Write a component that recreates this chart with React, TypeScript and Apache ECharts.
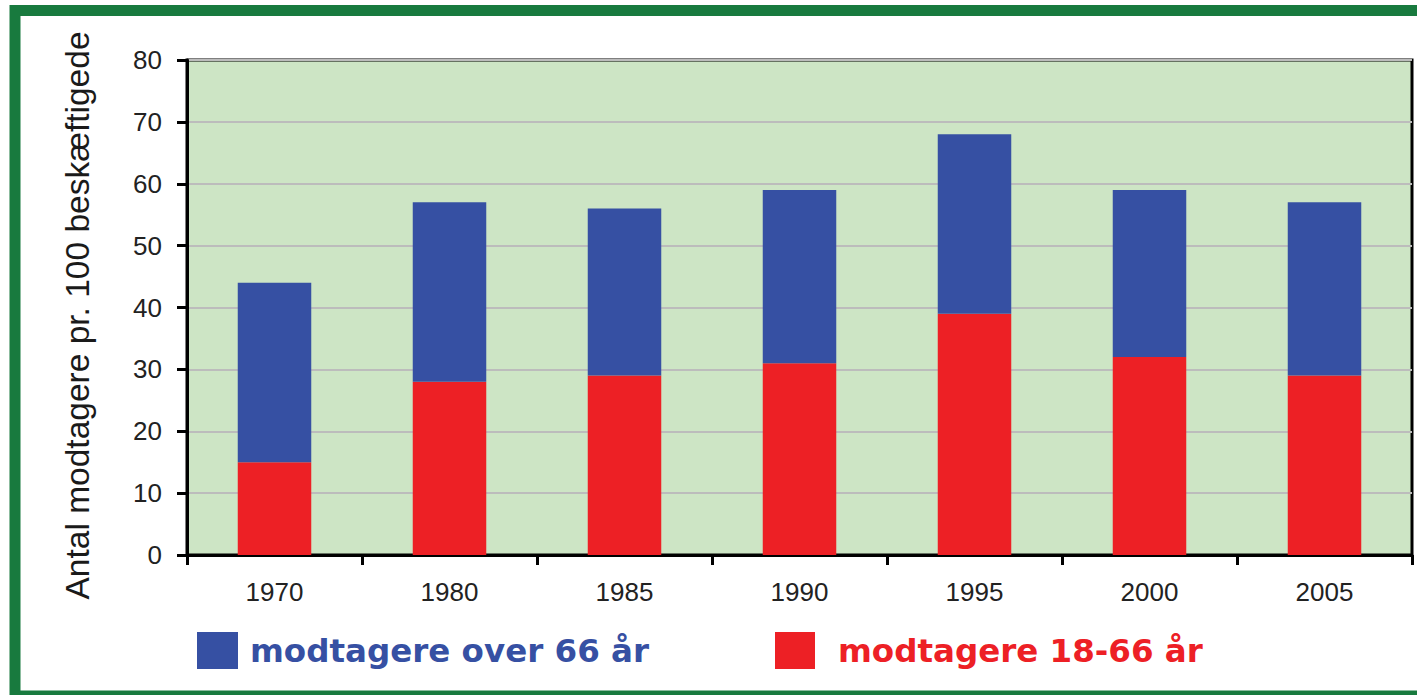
import React, { useEffect, useRef } from "react";
import * as echarts from "echarts";

const categories = ["1970", "1980", "1985", "1990", "1995", "2000", "2005"];
const age18to66 = [15, 28, 29, 31, 39, 32, 29];
const over66 = [29, 29, 27, 28, 29, 27, 28];
const yAxisTitle = "Antal modtagere pr. 100 beskæftigede";
const nameOver66 = "modtagere over 66 år";
const name18to66 = "modtagere 18-66 år";

const BLUE = "#3650a3";
const RED = "#ed2025";
const FONT = "'Liberation Sans', Arial, sans-serif";
const LEGEND_FONT = "'DejaVu Sans', sans-serif";

export default function App() {
  const ref = useRef<HTMLDivElement>(null);
  useEffect(() => {
    if (!ref.current) return;
    const chart = echarts.init(ref.current, undefined, { renderer: "svg" });
    chart.setOption({
      animation: false,
      backgroundColor: "#ffffff",
      grid: {
        left: 187,
        top: 60,
        right: 5,
        bottom: 140,
        show: true,
        backgroundColor: "#cde5c5",
        borderColor: "#000",
        borderWidth: 3,
      },
      legend: [
        {
          data: [nameOver66],
          left: 197,
          top: 632,
          padding: 0,
          itemWidth: 41,
          itemHeight: 37,
          icon: "rect",
          selectedMode: false,
          textStyle: {
            fontFamily: LEGEND_FONT,
            fontWeight: "bold",
            fontSize: 32.5,
            color: BLUE,
            padding: [0, 0, 0, 7],
          },
        },
        {
          data: [name18to66],
          left: 775,
          top: 632,
          padding: 0,
          itemWidth: 40,
          itemHeight: 37,
          icon: "rect",
          selectedMode: false,
          textStyle: {
            fontFamily: LEGEND_FONT,
            fontWeight: "bold",
            fontSize: 32.5,
            color: RED,
            padding: [0, 0, 0, 18],
          },
        },
      ],
      xAxis: {
        type: "category",
        data: categories,
        axisLine: { lineStyle: { color: "#000", width: 3 } },
        axisTick: { show: true, length: 10, lineStyle: { color: "#000", width: 3 } },
        axisLabel: { fontFamily: FONT, fontSize: 26, color: "#222", margin: 24 },
      },
      yAxis: {
        type: "value",
        min: 0,
        max: 80,
        interval: 10,
        name: yAxisTitle,
        nameLocation: "middle",
        nameGap: 93,
        nameTextStyle: {
          fontFamily: FONT,
          fontSize: 33.5,
          color: "#1a1a1a",
          padding: [0, 16, 0, 0],
        },
        axisLine: { show: true, lineStyle: { color: "#000", width: 3 } },
        axisTick: { show: true, length: 10, lineStyle: { color: "#000", width: 3 } },
        axisLabel: { fontFamily: FONT, fontSize: 26, color: "#222", margin: 25 },
        splitLine: { lineStyle: { color: "#bcbcbc", width: 2 } },
      },
      series: [
        {
          name: name18to66,
          type: "bar",
          stack: "total",
          data: age18to66,
          barWidth: "42%",
          itemStyle: { color: RED },
        },
        {
          name: nameOver66,
          type: "bar",
          stack: "total",
          data: over66,
          barWidth: "42%",
          itemStyle: { color: BLUE },
        },
      ],
      graphic: [
        {
          type: "rect",
          shape: { x: 15, y: 10.5, width: 1500, height: 685.5 },
          style: { fill: "none", stroke: "#187a3e", lineWidth: 11 },
          silent: true,
          z: 100,
        },
      ],
    });
    return () => chart.dispose();
  }, []);
  return (
    <div
      ref={ref}
      style={{ position: "fixed", left: 0, top: 0, width: 1417, height: 695 }}
    />
  );
}
